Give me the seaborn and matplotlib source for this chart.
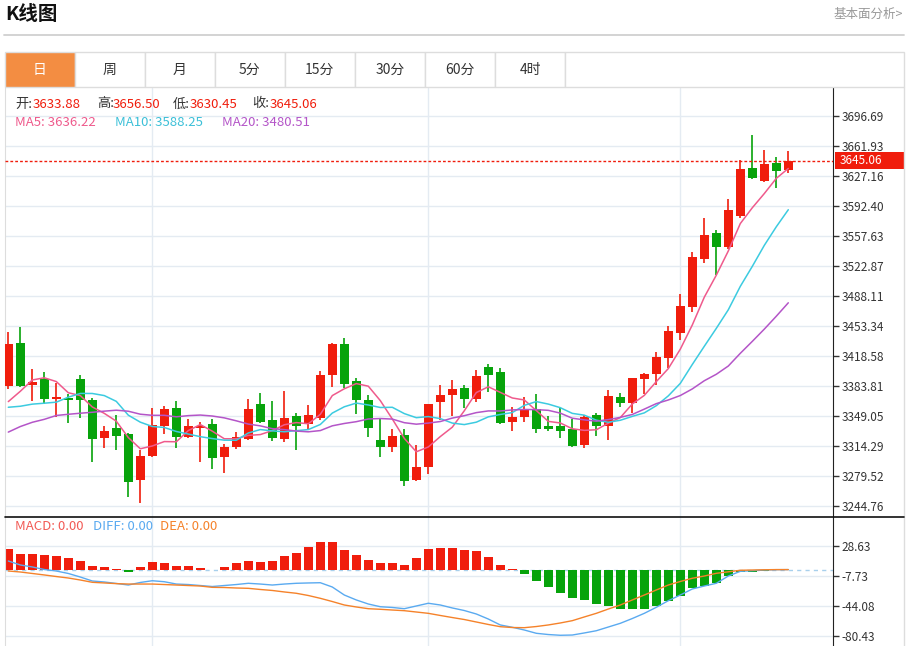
import numpy as np
import pandas as pd
import matplotlib
matplotlib.use("Agg")
import matplotlib.pyplot as plt
import seaborn as sns
from matplotlib.patches import Rectangle
from matplotlib.lines import Line2D

# daily K-line, 66 sessions
open_ = [3383.8, 3433.6, 3385.0, 3391.9, 3368.8, 3369.9, 3391.9, 3367.6, 3323.6, 3335.1,
         3328.2, 3274.9, 3302.7, 3337.5, 3358.3, 3324.7, 3335.1, 3339.8, 3301.5, 3313.1,
         3322.4, 3363.0, 3344.4, 3322.4, 3349.1, 3339.8, 3346.7, 3396.6, 3432.5, 3389.6,
         3367.6, 3321.2, 3313.1, 3327.0, 3274.9, 3290.0, 3365.3, 3373.4, 3381.5, 3368.8,
         3405.8, 3400.0, 3342.1, 3347.9, 3357.2, 3337.5, 3337.5, 3334.0, 3315.4, 3350.2,
         3337.5, 3371.1, 3364.1, 3391.9, 3397.7, 3416.3, 3445.2, 3475.4, 3531.0, 3561.1,
         3544.9, 3580.8, 3636.4, 3621.4, 3642.2, 3633.88]
high = [3446.4, 3452.2, 3403.5, 3400.0, 3387.3, 3374.5, 3396.6, 3369.9, 3337.5, 3350.2,
        3329.5, 3309.7, 3358.3, 3360.6, 3366.4, 3345.6, 3342.1, 3345.6, 3316.6, 3330.5,
        3368.8, 3375.7, 3366.4, 3378.0, 3352.5, 3361.8, 3401.2, 3433.6, 3439.4, 3393.1,
        3373.4, 3345.6, 3334.0, 3334.0, 3315.4, 3363.5, 3385.0, 3390.8, 3385.0, 3402.4,
        3409.3, 3404.7, 3359.5, 3371.1, 3374.5, 3349.1, 3358.3, 3345.6, 3350.2, 3352.5,
        3379.2, 3375.7, 3393.5, 3398.9, 3423.2, 3453.3, 3490.4, 3539.1, 3578.5, 3564.6,
        3600.5, 3645.7, 3674.7, 3657.3, 3649.2, 3656.50]
low = [3380.3, 3382.7, 3366.4, 3363.0, 3347.9, 3340.9, 3346.7, 3295.7, 3312.0, 3309.7,
       3255.2, 3248.2, 3301.0, 3328.2, 3312.0, 3323.5, 3295.7, 3287.6, 3283.0, 3310.8,
       3321.2, 3340.9, 3320.1, 3318.9, 3309.7, 3332.8, 3344.4, 3382.7, 3381.5, 3351.4,
       3324.7, 3301.5, 3307.3, 3267.9, 3273.7, 3281.8, 3344.4, 3349.1, 3358.3, 3365.3,
       3376.9, 3339.8, 3331.7, 3342.1, 3329.4, 3331.7, 3323.6, 3313.5, 3312.0, 3325.9,
       3321.2, 3359.5, 3352.5, 3374.5, 3385.0, 3404.7, 3437.1, 3469.6, 3526.4, 3512.4,
       3542.6, 3578.5, 3624.0, 3620.2, 3613.3, 3630.45]
close = [3432.5, 3383.8, 3388.5, 3368.8, 3371.1, 3367.6, 3367.6, 3322.4, 3331.7, 3325.9,
         3272.6, 3302.7, 3338.6, 3357.2, 3324.7, 3337.5, 3337.5, 3300.4, 3313.1, 3324.7,
         3357.2, 3342.1, 3323.6, 3346.7, 3337.5, 3350.2, 3396.6, 3432.5, 3386.1, 3367.6,
         3335.1, 3313.1, 3325.9, 3273.7, 3290.0, 3363.0, 3373.4, 3380.3, 3368.8, 3395.4,
         3396.6, 3340.9, 3347.9, 3357.2, 3334.0, 3334.0, 3331.7, 3314.3, 3347.9, 3337.5,
         3372.2, 3364.1, 3393.1, 3397.7, 3417.4, 3447.6, 3476.5, 3533.3, 3558.8, 3544.9,
         3587.8, 3635.3, 3624.8, 3641.1, 3633.0, 3645.06]
# closes before the visible window (estimated from the start of the MA lines)
prev_close = [3255, 3290, 3300, 3282, 3340, 3343, 3300, 3306, 3304, 3296,
              3372, 3364, 3358, 3359, 3310, 3324, 3323, 3356, 3393]

# MACD panel
macd_hist = [24.6, 19.3, 19.3, 17.3, 16.5, 14.4, 10.8, 4.4, 3.5, 0.7,
             -2.5, 3.5, 8.8, 8.4, 4.4, 4.4, 1.9, -0.5, 3.1, 7.6,
             10.4, 9.6, 10.8, 16.5, 20.5, 27.0, 33.4, 33.4, 23.8, 17.7,
             11.2, 8.0, 7.6, 5.6, 13.7, 24.6, 26.5, 25.8, 23.8, 22.5,
             15.6, 5.2, 0.3, -5.0, -13.8, -20.7, -28.0, -34.8, -36.8, -42.1,
             -43.7, -47.4, -47.4, -47.4, -43.7, -38.1, -31.6, -22.7, -19.5, -16.6,
             -8.1, -2.5, -2.9, -1.7, -1.0, -0.4]
diff = [10.4, 5.6, 3.2, 0.1, -1.7, -4.7, -9.0, -13.8, -15.0, -16.8,
        -18.7, -15.6, -13.5, -14.7, -17.5, -18.1, -19.3, -20.5, -19.3, -18.1,
        -16.6, -17.5, -18.7, -17.5, -16.6, -16.2, -15.9, -21.1, -30.8, -36.8,
        -41.7, -45.0, -45.9, -47.4, -44.1, -40.8, -42.9, -46.5, -49.6, -53.8,
        -59.9, -67.1, -69.9, -73.2, -77.2, -78.7, -79.6, -79.3, -76.8, -74.1,
        -69.6, -65.1, -59.3, -53.0, -45.7, -37.7, -30.8, -23.5, -19.9, -16.6,
        -7.8, -2.1, -1.3, -0.5, -0.1, 0.0]
dea = [-1.7, -2.9, -4.7, -6.5, -8.4, -10.2, -12.6, -15.4, -16.2, -17.0,
       -17.5, -17.5, -17.5, -18.1, -18.7, -19.3, -19.9, -21.5, -21.7, -22.3,
       -22.7, -24.1, -25.3, -27.1, -28.7, -31.4, -34.8, -38.7, -42.9, -45.3,
       -47.4, -48.1, -49.0, -49.8, -51.4, -53.0, -55.6, -58.1, -60.5, -63.5,
       -66.5, -69.2, -70.2, -70.4, -69.0, -67.1, -64.7, -61.9, -57.4, -53.0,
       -47.8, -42.9, -36.8, -30.8, -24.7, -18.7, -14.4, -10.5, -7.8, -4.5,
       -2.7, -0.8, -0.5, -0.2, 0.0, 0.0]

price_ticks = [3696.69, 3661.93, 3627.16, 3592.40, 3557.63, 3522.87, 3488.11,
               3453.34, 3418.58, 3383.81, 3349.05, 3314.29, 3279.52, 3244.76]
macd_ticks = [28.63, -7.73, -44.08, -80.43]
month_lines = [12, 35, 56]
tabs = ['日', '周', '月', '5分', '15分', '30分', '60分', '4时']

RED = '#f01d0c'
GREEN = '#07a30b'
GRID = '#e4ebf2'
W, H = 907, 646

sns.set_style("white")
plt.rcParams['font.family'] = ['Noto Sans CJK SC', 'DejaVu Sans']

df = pd.DataFrame({'open': open_, 'high': high, 'low': low, 'close': close})
df['x'] = np.arange(len(df))
full = pd.Series(prev_close + close)
n0 = len(prev_close)
df['ma5'] = full.rolling(5).mean().iloc[n0:].values
df['ma10'] = full.rolling(10).mean().iloc[n0:].values
df['ma20'] = full.rolling(20).mean().iloc[n0:].values
up = df['close'] >= df['open']
cols = np.where(up, RED, GREEN)

fig = plt.figure(figsize=(W / 100, H / 100), dpi=100)


def fx(x):
    return x / W


def fy(y):
    return 1 - y / H


# header
fig.text(fx(5), fy(15), 'K线图', fontsize=14, fontweight='bold', color='#111', va='center')
fig.text(fx(903), fy(14), '基本面分析>', fontsize=9, color='#999', va='center', ha='right')
fig.add_artist(Line2D([fx(4), fx(904)], [fy(35), fy(35)], color='#d0d0d0', lw=1.3))

# tab bar
tab_w = 70.06
for k, t in enumerate(tabs):
    x0 = 4.6 + tab_w * k
    fig.add_artist(Rectangle((fx(x0), fy(87)), tab_w / W, 35 / H, transform=fig.transFigure,
                             facecolor='#f38d42' if k == 0 else 'white', edgecolor='#dddddd', lw=1))
    fig.text(fx(x0 + tab_w / 2), fy(70), t, fontsize=10, ha='center', va='center',
             color='white' if k == 0 else '#333')
x_end = 4.6 + tab_w * len(tabs)
fig.add_artist(Rectangle((fx(x_end), fy(87)), (903.5 - x_end) / W, 35 / H, transform=fig.transFigure,
                         facecolor='white', edgecolor='#dddddd', lw=1))
fig.add_artist(Line2D([fx(903.5), fx(903.5)], [fy(87), fy(646)], color='#dddddd', lw=1))

# panels
ax = fig.add_axes([fx(5), fy(517), 828 / W, (517 - 88) / H])
axm = fig.add_axes([fx(5), 0, 828 / W, (646 - 517) / H])
xlim = (-0.275, 68.725)

for t in price_ticks:
    ax.axhline(t, color=GRID, lw=1, zorder=0)
for t in macd_ticks:
    axm.axhline(t, color=GRID, lw=1, zorder=0)
for i in month_lines:
    ax.axvline(i, color=GRID, lw=1, zorder=0)
    axm.axvline(i, color=GRID, lw=1, zorder=0)

# candles
body_lo = np.minimum(df['open'], df['close'])
body_h = np.maximum((df['close'] - df['open']).abs(), 1.3)
ax.vlines(df['x'], df['low'], df['high'], colors=cols, lw=1.2, zorder=2)
ax.bar(df['x'], body_h, bottom=body_lo, width=0.74, color=cols, linewidth=0, zorder=3)

sns.lineplot(data=df, x='x', y='ma5', ax=ax, color='#ef5a8c', lw=1.1, zorder=4)
sns.lineplot(data=df, x='x', y='ma10', ax=ax, color='#3ccbe0', lw=1.1, zorder=4)
sns.lineplot(data=df, x='x', y='ma20', ax=ax, color='#b455c8', lw=1.1, zorder=4)

last = close[-1]
ax.axhline(last, color=RED, lw=1, ls=(0, (2, 1.5)), zorder=5)
ax.add_patch(Rectangle((1.0024, last - 9.9), 0.0835, 19.8, transform=ax.get_yaxis_transform(),
                       facecolor=RED, edgecolor='none', clip_on=False, zorder=6))
ax.text(1.008, last, f'{last:.2f}', transform=ax.get_yaxis_transform(), color='white',
        fontsize=8.5, va='center', ha='left', zorder=7)

ax.set_xlim(xlim)
ax.set_ylim(3232.0, 3729.1)

# MACD
axm.axhline(0, color='#a8d0ec', lw=1, ls=(0, (3, 3)), zorder=1)
mcols = np.where(np.array(macd_hist) >= 0, RED, GREEN)
axm.bar(df['x'], macd_hist, width=0.74, color=mcols, linewidth=0, zorder=2)
sns.lineplot(x=df['x'], y=diff, ax=axm, color='#5aaaf0', lw=1, zorder=3)
sns.lineplot(x=df['x'], y=dea, ax=axm, color='#f5822a', lw=1, zorder=3)
axm.set_xlim(xlim)
axm.set_ylim(-92.6, 63.75)

for a, ticks in ((ax, price_ticks), (axm, macd_ticks)):
    a.set_xlabel('')
    a.set_ylabel('')
    a.set_xticks([])
    a.yaxis.tick_right()
    a.set_yticks(ticks)
    a.set_yticklabels([f'{t:.2f}' for t in ticks])
    a.tick_params(axis='y', length=4, width=1, color='#333', labelsize=8.5,
                  labelcolor='#333', pad=2)
    a.spines['right'].set_color('#222')
    a.spines['left'].set_color('#dddddd')
    a.spines['top'].set_visible(False)
    a.spines['bottom'].set_visible(False)
fig.add_artist(Line2D([fx(5), fx(903.5)], [fy(516.5), fy(516.5)], color='#111', lw=1.2))

# info lines
fs = 9.5
for xp, s, c in [(15, '开:', '#333'), (33, '3633.88', RED), (97, '高:', '#333'), (113, '3656.50', RED),
                 (173, '低:', '#333'), (190, '3630.45', RED), (252, '收:', '#333'), (270, '3645.06', RED)]:
    fig.text(fx(xp), fy(104), s, fontsize=fs, color=c, va='center')
for xp, s, c in [(15, 'MA5: 3636.22', '#ef5a8c'), (115, 'MA10: 3588.25', '#3cc0d8'),
                 (222, 'MA20: 3480.51', '#b455c8')]:
    fig.text(fx(xp), fy(122), s, fontsize=fs, color=c, va='center')
for xp, s, c in [(15, 'MACD: 0.00', '#f25a55'), (93, 'DIFF: 0.00', '#5aaaf0'),
                 (160, 'DEA: 0.00', '#f5822a')]:
    fig.text(fx(xp), fy(527), s, fontsize=fs, color=c, va='center')

fig.savefig('out.png', dpi=100)
